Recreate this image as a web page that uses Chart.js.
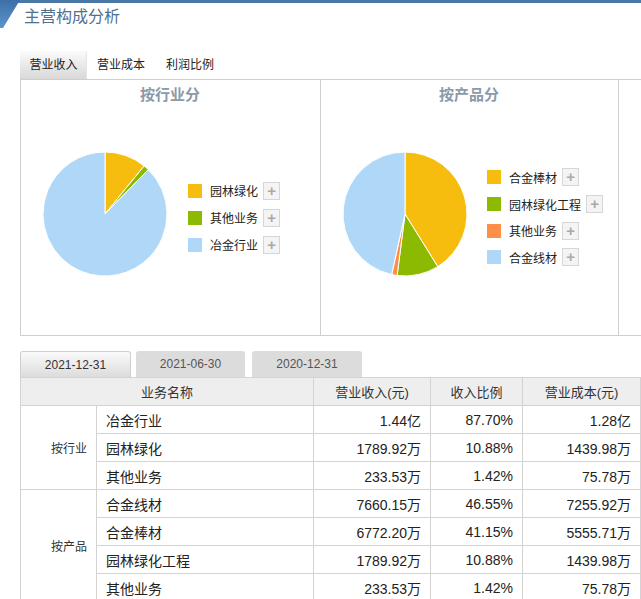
<!DOCTYPE html>
<html>
<head>
<meta charset="utf-8">
<script src="https://cdn.jsdelivr.net/npm/chart.js@4.4.1/dist/chart.umd.min.js"></script>
<style>
  body { margin: 0; width: 641px; height: 599px; overflow: hidden; background: #fff; position: relative;
         font-family: "Liberation Sans", "Noto Sans CJK SC", sans-serif; color: #222; }
  .abs { position: absolute; }
  #topbar { left: 0; top: 0; width: 641px; height: 3px; background: #4a79a7; }
  #corner { left: 0; top: 0; width: 20px; height: 28px; background: linear-gradient(#3d70a8, #5b93cc);
            clip-path: polygon(0 0, 100% 0, 15% 100%, 0 100%); }
  #title { left: 24px; top: 5px; font-size: 16px; color: #51708f; line-height: 24px; }
  .tab { top: 51px; height: 28px; line-height: 28px; font-size: 12px; text-align: center; }
  #tab1 { left: 20px; width: 67px; background: linear-gradient(#fbfbfb, #d8d8d8); border-radius: 2px 2px 0 0;
          box-shadow: inset -1px 0 0 #e4e4e4; }
  #panel { left: 20px; top: 79px; width: 640px; height: 255px; border: 1px solid #cfcfcf; }
  .divider { top: 79px; width: 1px; height: 256px; background: #cfcfcf; }
  .ptitle { top: 84px; font-size: 15px; font-weight: bold; color: #8b9aa8; text-align: center; line-height: 22px; }
  .legend .row { display: flex; align-items: center; font-size: 12px; }
  .legend .sw { width: 14px; height: 14px; margin-right: 8px; }
  .legend .plus { width: 15px; height: 16px; margin-left: 5px; border: 1px solid #d6d6d6; background: #f4f4f4;
                  color: #a9a9a9; font-size: 15px; line-height: 16px; text-align: center; font-weight: bold; }
  .dtab { top: 351px; height: 26px; line-height: 26px; font-size: 12px; text-align: center; color: #555;
          background: #dcdcdc; border-radius: 3px 3px 0 0; }
  .dtab.on { background: linear-gradient(#fafafa, #dcdcdc); color: #333; border: 1px solid #cfcfcf; border-bottom: none;
             height: 25px; }
  table { left: 20px; top: 377px; border-collapse: collapse; table-layout: fixed; width: 620px; }
  td, th { border: 1px solid #d3d3d3; height: 28px; padding: 0 9px; font-size: 14px; color: #222; font-weight: normal;
           white-space: nowrap; box-sizing: border-box; }
  th { background: #eeeeee; font-size: 13px; color: #333; text-align: center; }
  td.num { text-align: right; }
  td.grp { text-align: right; font-size: 12px; color: #333; }
</style>
</head>
<body>
<div id="topbar" class="abs"></div>
<div id="corner" class="abs"></div>
<div id="title" class="abs">主营构成分析</div>

<div id="tab1" class="abs tab">营业收入</div>
<div class="abs tab" style="left:97px">营业成本</div>
<div class="abs tab" style="left:166px">利润比例</div>

<div id="panel" class="abs"></div>
<div class="abs divider" style="left:320px"></div>
<div class="abs divider" style="left:618px"></div>
<div class="abs ptitle" style="left:20px;width:300px">按行业分</div>
<div class="abs ptitle" style="left:320px;width:298px">按产品分</div>

<canvas id="pieIndustry" class="abs" width="130" height="130" style="left:40px;top:149px"></canvas>
<canvas id="pieProduct" class="abs" width="130" height="130" style="left:340px;top:149px"></canvas>
<div id="legendIndustry" class="abs legend" style="left:188px;top:177px"></div>
<div id="legendProduct" class="abs legend" style="left:487px;top:164px"></div>

<div id="dateTabs"></div>
<table id="detail" class="abs"></table>

<script>
// pie: industry breakdown (share of revenue, %)
const industryLabels = ['园林绿化', '其他业务', '冶金行业'];
const industryShares = [10.88, 1.42, 87.70];
// pie: product breakdown (share of revenue, %)
const productLabels = ['合金棒材', '园林绿化工程', '其他业务', '合金线材'];
const productShares = [41.15, 10.88, 1.42, 46.55];

const industryColors = ['#F6BD0F', '#8BBA00', '#AFD8F8'];
const productColors = ['#F6BD0F', '#8BBA00', '#FF8E46', '#AFD8F8'];

const reportDates = ['2021-12-31', '2021-06-30', '2020-12-31'];
const tableHeaders = ['业务名称', '营业收入(元)', '收入比例', '营业成本(元)'];

// table: by industry
const industryNames = ['冶金行业', '园林绿化', '其他业务'];
const industryRevenue = ['1.44亿', '1789.92万', '233.53万'];
const industryRatio = ['87.70%', '10.88%', '1.42%'];
const industryCost = ['1.28亿', '1439.98万', '75.78万'];
// table: by product
const productNames = ['合金线材', '合金棒材', '园林绿化工程', '其他业务'];
const productRevenue = ['7660.15万', '6772.20万', '1789.92万', '233.53万'];
const productRatio = ['46.55%', '41.15%', '10.88%', '1.42%'];
const productCost = ['7255.92万', '5555.71万', '1439.98万', '75.78万'];

function makePie(id, labels, values, colors) {
  const ctx = document.getElementById(id).getContext('2d');
  return new Chart(ctx, {
    type: 'pie',
    data: {
      labels: labels,
      datasets: [{
        data: values,
        backgroundColor: colors,
        borderColor: '#ffffff',
        borderWidth: 1,
      }],
    },
    options: {
      responsive: false,
      animation: false,
      radius: 62,
      layout: { padding: 0 },
      plugins: {
        legend: { display: false },
        tooltip: { enabled: false },
      },
    },
  });
}

function makeLegend(id, labels, colors, rowHeight) {
  const el = document.getElementById(id);
  labels.forEach((name, i) => {
    const row = document.createElement('div');
    row.className = 'row';
    row.style.height = rowHeight + 'px';
    row.innerHTML = '<span class="sw" style="background:' + colors[i] + '"></span>' +
      '<span>' + name + '</span><span class="plus">+</span>';
    el.appendChild(row);
  });
}

makePie('pieIndustry', industryLabels, industryShares, industryColors);
makePie('pieProduct', productLabels, productShares, productColors);
makeLegend('legendIndustry', industryLabels, industryColors, 27);
makeLegend('legendProduct', productLabels, productColors, 26.7);

// date tabs
const tabPos = [[20, 109], [136, 109], [252, 110]];
const tabsEl = document.getElementById('dateTabs');
reportDates.forEach((d, i) => {
  const t = document.createElement('div');
  t.className = 'abs dtab' + (i === 0 ? ' on' : '');
  t.style.left = tabPos[i][0] + 'px';
  t.style.width = tabPos[i][1] + 'px';
  t.textContent = d;
  tabsEl.appendChild(t);
});

// detail table
const table = document.getElementById('detail');
let html = '<colgroup><col style="width:76px"><col style="width:217px"><col style="width:117px">' +
  '<col style="width:92px"><col style="width:118px"></colgroup>';
html += '<tr><th colspan="2">' + tableHeaders[0] + '</th><th>' + tableHeaders[1] + '</th><th>' +
  tableHeaders[2] + '</th><th>' + tableHeaders[3] + '</th></tr>';
function addGroup(groupName, names, rev, ratio, cost) {
  names.forEach((n, i) => {
    html += '<tr>';
    if (i === 0) html += '<td class="grp" rowspan="' + names.length + '">' + groupName + '</td>';
    html += '<td>' + n + '</td><td class="num">' + rev[i] + '</td><td class="num">' + ratio[i] +
      '</td><td class="num">' + cost[i] + '</td></tr>';
  });
}
addGroup('按行业', industryNames, industryRevenue, industryRatio, industryCost);
addGroup('按产品', productNames, productRevenue, productRatio, productCost);
table.innerHTML = html;
</script>
</body>
</html>
